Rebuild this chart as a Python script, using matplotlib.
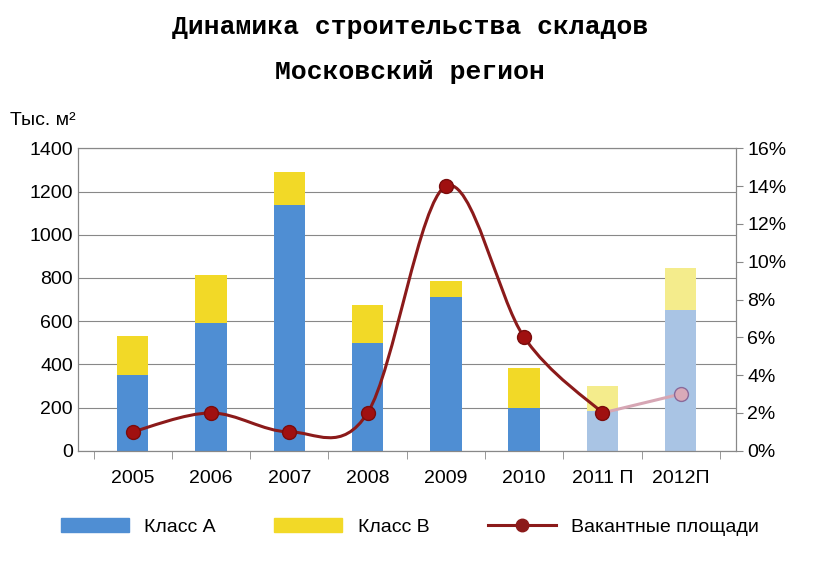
import matplotlib
matplotlib.use("Agg")
import matplotlib.pyplot as plt
from matplotlib.path import Path
from matplotlib.patches import PathPatch, Patch
from matplotlib.lines import Line2D
import numpy as np

years = ["2005", "2006", "2007", "2008", "2009", "2010", "2011 П", "2012П"]
class_a = [350, 590, 1140, 500, 710, 200, 185, 650]
class_b = [180, 225, 150, 175, 75, 185, 115, 195]
vacancy = [1, 2, 1, 2, 14, 6, 2, 3]
pale = [False]*6 + [True, True]

plt.rcParams['font.family'] = ['Liberation Sans', 'DejaVu Sans']
fig = plt.figure(figsize=(8.2, 5.62), dpi=100)
ax = fig.add_axes([0.095, 0.198, 0.802, 0.538])
x = np.arange(len(years))
ca = ['#a9c4e4' if p else '#4f8ed3' for p in pale]
cb = ['#f4ec8c' if p else '#f2d927' for p in pale]
ax.bar(x, class_a, 0.4, color=ca, zorder=2)
ax.bar(x, class_b, 0.4, bottom=class_a, color=cb, zorder=2)
ax.set_ylim(0, 1400)
ax.set_xlim(-0.7, 7.7)
ax.set_yticks(range(0, 1401, 200))
ax.grid(axis='y', color='#888888', lw=0.8, zorder=0)
ax.set_xticks(x)
ax.set_xticklabels(years)
ax.tick_params(axis='x', length=0, pad=14, labelsize=14)
ax.tick_params(axis='y', labelsize=14, length=0)
for s in ax.spines.values():
    s.set_color('#888888')
ax.set_xticks(np.arange(-0.5, 7.6, 1), minor=True)
ax.tick_params(axis='x', which='minor', length=6, color='#888888')

ax2 = ax.twinx()
ax2.set_ylim(0, 16)
ax2.set_yticks(range(0, 17, 2))
ax2.set_yticklabels([f"{v}%" for v in range(0, 17, 2)])
ax2.tick_params(axis='y', labelsize=14, length=5, color='#888888')
for s in ax2.spines.values():
    s.set_color('#888888')

def smooth_path(xs, ys):
    verts = [(xs[0], ys[0])]
    codes = [Path.MOVETO]
    n = len(xs)
    for i in range(n-1):
        p0 = (xs[max(i-1, 0)], ys[max(i-1, 0)])
        p1 = (xs[i], ys[i]); p2 = (xs[i+1], ys[i+1])
        p3 = (xs[min(i+2, n-1)], ys[min(i+2, n-1)])
        c1 = (p1[0] + (p2[0]-p0[0])/6, p1[1] + (p2[1]-p0[1])/6)
        c2 = (p2[0] - (p3[0]-p1[0])/6, p2[1] - (p3[1]-p1[1])/6)
        verts += [c1, c2, p2]
        codes += [Path.CURVE4]*3
    return Path(verts, codes)

ax2.add_patch(PathPatch(smooth_path(x[:7], vacancy[:7]), fc='none', ec='#8b1a1a', lw=2.2, zorder=3))
ax2.add_patch(PathPatch(smooth_path(x[6:], vacancy[6:]), fc='none', ec='#d6a6b4', lw=2.2, zorder=3))
ax2.plot(x[:7], vacancy[:7], 'o', color='#a01010', ms=10, mec='#7a0c0c', zorder=4)
ax2.plot(x[7:], vacancy[7:], 'o', color='#d9aab8', ms=10, mec='#8a6a9a', zorder=4)

fig.text(0.5, 0.952, "Динамика строительства складов", ha='center', va='center',
         fontsize=19, fontweight='bold', family='Liberation Mono')
fig.text(0.5, 0.872, "Московский регион", ha='center', va='center',
         fontsize=19, fontweight='bold', family='Liberation Mono')
fig.text(0.012, 0.785, "Тыс. м²", fontsize=14, va='center')

handles = [Patch(color='#4f8ed3'), Patch(color='#f2d927'),
           Line2D([], [], color='#8b1a1a', marker='o', lw=2.2, ms=9)]
fig.legend(handles, ["Класс А", "Класс В", "Вакантные площади"], loc='center',
           bbox_to_anchor=(0.5, 0.062), ncol=3, frameon=False, fontsize=14,
           handlelength=3.5, columnspacing=3)
fig.savefig("out.png", dpi=100)
